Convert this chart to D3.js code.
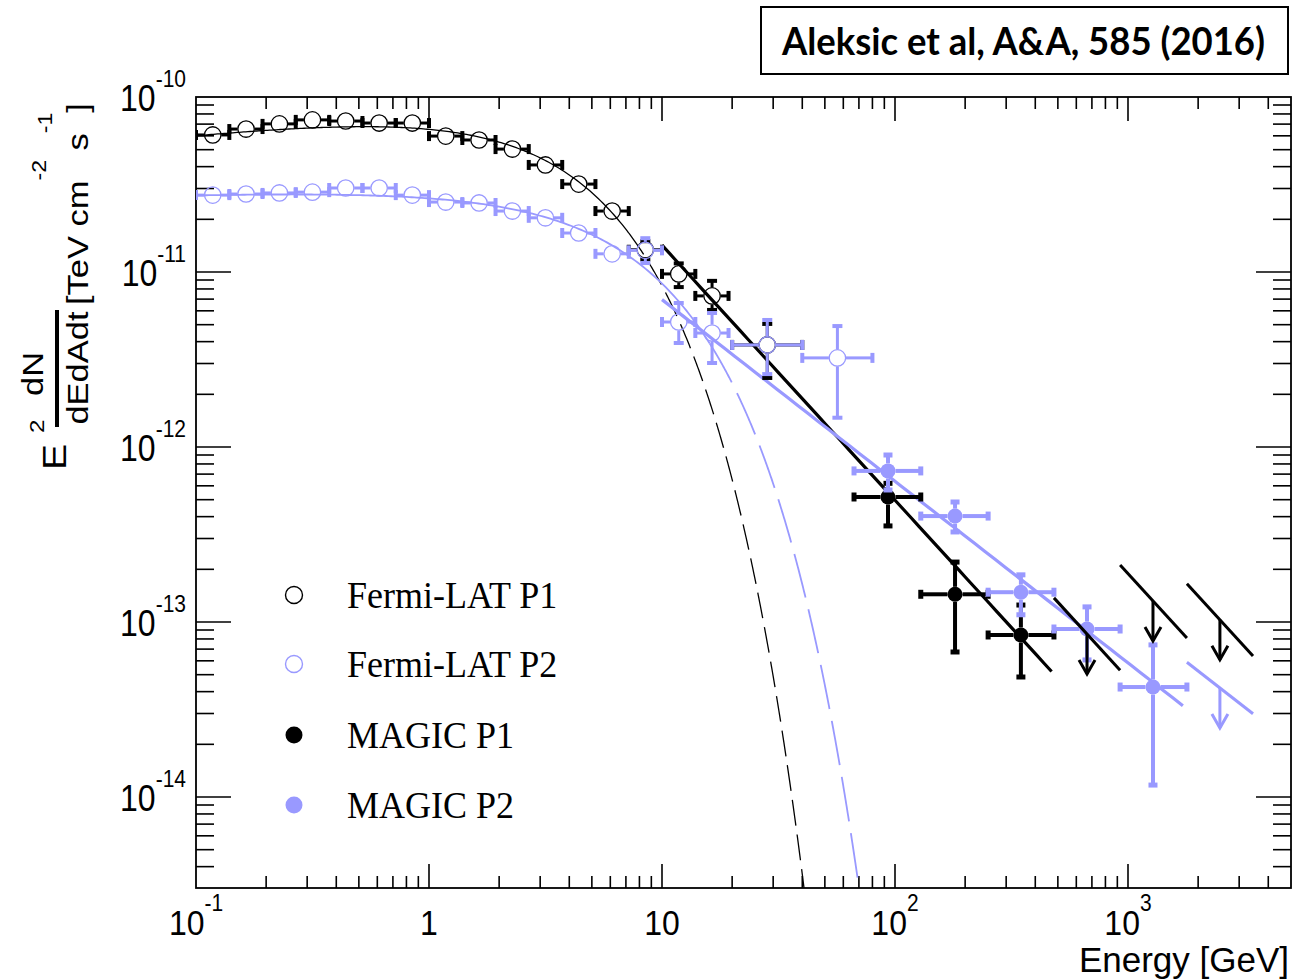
<!DOCTYPE html>
<html><head><meta charset="utf-8">
<script src="https://cdn.jsdelivr.net/npm/d3@7"></script>
<style>body{margin:0;background:#fff} svg{display:block}</style>
</head><body><svg id="c" width="1292" height="979"></svg>
<script>
// ---------------- data ----------------
const xTickValues = [0.1, 1, 10, 100, 1000];
const xTickBase = ["10", "1", "10", "10", "10"];
const xTickExp = ["-1", "", "", "2", "3"];
const yTickValues = [1e-10, 1e-11, 1e-12, 1e-13, 1e-14];
const yTickExp = ["-10", "-11", "-12", "-13", "-14"];

const fermiP1Energy = [0.118,0.164,0.228,0.316,0.439,0.611,0.848,1.18,1.64,2.28,3.16,4.39,6.11,8.48,11.8,16.4,28.3];
const fermiP1BinLo  = [0.1,0.139,0.193,0.268,0.373,0.518,0.720,1.0,1.39,1.93,2.68,3.73,5.18,7.20,10.0,13.9,20.0];
const fermiP1BinHi  = [0.139,0.193,0.268,0.373,0.518,0.720,1.0,1.39,1.93,2.68,3.73,5.18,7.20,10.0,13.9,19.3,40.0];
const fermiP1Flux   = [6.07e-11,6.56e-11,7.02e-11,7.40e-11,7.29e-11,7.10e-11,7.10e-11,5.98e-11,5.68e-11,5.04e-11,4.09e-11,3.18e-11,2.23e-11,1.34e-11,9.75e-12,7.30e-12,3.83e-12];
const fermiP1Low    = [5.9e-11,6.4e-11,6.85e-11,7.25e-11,7.15e-11,6.95e-11,6.95e-11,5.85e-11,5.55e-11,4.9e-11,3.95e-11,3.05e-11,2.12e-11,1.18e-11,8.2e-12,6.07e-12,2.48e-12];
const fermiP1High   = [6.25e-11,6.75e-11,7.2e-11,7.55e-11,7.45e-11,7.25e-11,7.25e-11,6.1e-11,5.8e-11,5.2e-11,4.25e-11,3.32e-11,2.35e-11,1.5e-11,1.12e-11,8.9e-12,5.05e-12];

const fermiP2Energy = [0.118,0.164,0.228,0.316,0.439,0.611,0.848,1.18,1.64,2.28,3.16,4.39,6.11,8.48,11.8,16.4,28.3,56.6];
const fermiP2BinLo  = [0.1,0.139,0.193,0.268,0.373,0.518,0.720,1.0,1.39,1.93,2.68,3.73,5.18,7.20,10.0,13.9,20.0,40.0];
const fermiP2BinHi  = [0.139,0.193,0.268,0.373,0.518,0.720,1.0,1.39,1.93,2.68,3.73,5.18,7.20,10.0,13.9,19.3,40.0,80.0];
const fermiP2Flux   = [2.75e-11,2.79e-11,2.83e-11,2.86e-11,3.02e-11,3.02e-11,2.75e-11,2.51e-11,2.48e-11,2.23e-11,2.04e-11,1.67e-11,1.27e-11,1.33e-11,5.18e-12,4.48e-12,3.83e-12,3.23e-12];
const fermiP2Low    = [2.65e-11,2.7e-11,2.74e-11,2.77e-11,2.93e-11,2.92e-11,2.65e-11,2.42e-11,2.38e-11,2.13e-11,1.94e-11,1.57e-11,1.17e-11,1.125e-11,3.93e-12,3.02e-12,2.61e-12,1.47e-12];
const fermiP2High   = [2.85e-11,2.88e-11,2.92e-11,2.95e-11,3.11e-11,3.12e-11,2.85e-11,2.6e-11,2.58e-11,2.33e-11,2.14e-11,1.77e-11,1.37e-11,1.56e-11,6.65e-12,5.83e-12,5.32e-12,4.91e-12];

const magicP1Energy = [93.3, 181, 347];
const magicP1BinLo  = [66.7, 129, 251];
const magicP1BinHi  = [129, 251, 481];
const magicP1Flux   = [5.18e-13, 1.44e-13, 8.43e-14];
const magicP1Low    = [3.54e-13, 6.74e-14, 4.85e-14];
const magicP1High   = [6.2e-13, 2.2e-13, 1.25e-13];
const magicP1ULEnergy = [667, 1280, 2480];
const magicP1ULBinLo  = [481, 925, 1790];
const magicP1ULBinHi  = [925, 1790, 3440];
const magicP1UL       = [8.53e-14, 1.32e-13, 1.03e-13];

const magicP2Energy = [93.3, 181, 347, 667, 1280];
const magicP2BinLo  = [66.7, 129, 251, 481, 925];
const magicP2BinHi  = [129, 251, 481, 925, 1790];
const magicP2Flux   = [7.3e-13, 4.03e-13, 1.48e-13, 9.12e-14, 4.25e-14];
const magicP2Low    = [5.68e-13, 3.27e-13, 1.10e-13, 6.07e-14, 1.17e-14];
const magicP2High   = [9.0e-13, 4.85e-13, 1.86e-13, 1.22e-13, 7.4e-14];
const magicP2ULEnergy = [2480];
const magicP2ULBinLo  = [1790];
const magicP2ULBinHi  = [3440];
const magicP2UL       = [4.2e-14];

// fit parameters: E^2 dN/dE = N * E^(2-G) * exp(-E/Ec)  (E in GeV)
const fermiP1Fit = {norm: 8.51e-11, index: 1.86, cutoff: 3.78, solidTo: 7.2};
const fermiP2Fit = {norm: 3.01e-11, index: 1.965, cutoff: 7.49, solidTo: 16};
// power laws: E^2 dN/dE = N0 * (E/100)^(2-G)
const magicP1Fit = {norm: 4.97e-13, index: 3.457, from: 10, to: 470};
const magicP2Fit = {norm: 6.37e-13, index: 3.038, from: 10, to: 1720};

const legendLabels = ["Fermi-LAT P1", "Fermi-LAT P2", "MAGIC P1", "MAGIC P2"];

// ---------------- drawing ----------------
const BLACK = "#000", BLUE = "#9999ff";
const svg = d3.select("#c");
const L = 196, R = 1291, T = 97, B = 888;
const x = d3.scaleLog().domain([0.1, 5000]).range([L, L + 233 * Math.log10(50000)]);
const y = d3.scaleLog().domain([Math.pow(10, -14.52), 1e-10]).range([B, T]);

svg.append("defs").append("clipPath").attr("id", "clip")
  .append("rect").attr("x", L).attr("y", T).attr("width", R - L).attr("height", B - T);

// annotation box
svg.append("rect").attr("x", 761).attr("y", 7).attr("width", 527).attr("height", 67)
  .attr("fill", "none").attr("stroke", "#000").attr("stroke-width", 2);
svg.append("text").attr("transform", "translate(782,55) scale(1,1.12)")
  .attr("font-family", "Lato, 'Open Sans', sans-serif").attr("font-weight", "bold")
  .attr("font-size", 34).attr("textLength", 483).attr("lengthAdjust", "spacingAndGlyphs")
  .text("Aleksic et al, A&A, 585 (2016)");

// axes frame and ticks
const axes = svg.append("g");
axes.append("rect").attr("x", L).attr("y", T).attr("width", R - L).attr("height", B - T)
  .attr("fill", "none").attr("stroke", "#000").attr("stroke-width", 1.8);
const isMajor = v => Math.abs(Math.log10(v) - Math.round(Math.log10(v))) < 1e-6;
x.ticks().forEach(v => {
  const px = x(v); if (px <= L + 0.5 || px >= R - 0.5) return;
  const len = isMajor(v) ? 24 : 12;
  axes.append("line").attr("x1", px).attr("x2", px).attr("y1", B).attr("y2", B - len).attr("stroke", "#000").attr("stroke-width", 1.6);
  axes.append("line").attr("x1", px).attr("x2", px).attr("y1", T).attr("y2", T + len).attr("stroke", "#000").attr("stroke-width", 1.6);
});
y.ticks().forEach(v => {
  const py = y(v); if (py <= T + 0.5 || py >= B - 0.5) return;
  const len = isMajor(v) ? 35 : 18;
  axes.append("line").attr("x1", L).attr("x2", L + len).attr("y1", py).attr("y2", py).attr("stroke", "#000").attr("stroke-width", 1.6);
  axes.append("line").attr("x1", R).attr("x2", R - len).attr("y1", py).attr("y2", py).attr("stroke", "#000").attr("stroke-width", 1.6);
});

// tick labels
const SANS = "'Liberation Sans', Arial, Helvetica, sans-serif";
xTickValues.forEach((v, i) => {
  const t = svg.append("text").attr("transform", `translate(${x(v)},935) scale(1,1.12)`)
    .attr("text-anchor", "middle").attr("font-family", SANS).attr("font-size", 32);
  t.append("tspan").text(xTickBase[i]);
  if (xTickExp[i]) t.append("tspan").attr("font-size", 21).attr("dy", -21).text(xTickExp[i]);
});
yTickValues.forEach((v, i) => {
  const t = svg.append("text").attr("transform", `translate(186,${y(v) + 14}) scale(1,1.15)`)
    .attr("text-anchor", "end").attr("font-family", SANS).attr("font-size", 32);
  t.append("tspan").text("10");
  t.append("tspan").attr("font-size", 21).attr("dy", -21).text(yTickExp[i]);
});
svg.append("text").attr("transform", "translate(1289,972)")
  .attr("text-anchor", "end").attr("font-family", SANS).attr("font-size", 35).text("Energy [GeV]");

// y-axis title (rotated)
const yt = svg.append("g").attr("transform", "rotate(-90)").attr("font-family", SANS);
yt.append("text").attr("transform", "translate(-470,66) scale(1.15,1)").attr("font-size", 34).text("E");
yt.append("text").attr("transform", "translate(-433,44) scale(1.15,1)").attr("font-size", 21).text("2");
yt.append("text").attr("transform", "translate(-374,43) scale(1.15,1)").attr("font-size", 30).attr("text-anchor", "middle").text("dN");
yt.append("line").attr("x1", -427).attr("x2", -310).attr("y1", 57).attr("y2", 57).attr("stroke", "#000").attr("stroke-width", 4);
yt.append("text").attr("transform", "translate(-368,88) scale(1.15,1)").attr("font-size", 30).attr("text-anchor", "middle").text("dEdAdt");
const br = yt.append("text").attr("transform", "translate(-305,88) scale(1.15,1)").attr("font-size", 30);
br.append("tspan").text("[TeV cm");
br.append("tspan").attr("font-size", 20).attr("dy", -42).text("-2");
br.append("tspan").attr("dy", 42).text(" s");
br.append("tspan").attr("font-size", 20).attr("dy", -36).text("-1");
br.append("tspan").attr("dy", 36).text("]");

// plot contents
const plot = svg.append("g").attr("clip-path", "url(#clip)");
const line = d3.line().x(d => x(d[0])).y(d => y(d[1]));

function ecpl(fit, e) { return fit.norm * Math.pow(e, 2 - fit.index) * Math.exp(-e / fit.cutoff); }
function pl(fit, e) { return fit.norm * Math.pow(e / 100, 2 - fit.index); }
function logSamples(a, b, n) { const la = Math.log10(a), lb = Math.log10(b); return d3.range(n + 1).map(k => Math.pow(10, la + (lb - la) * k / n)); }

function drawFermiFit(fit, color, w, dash) {
  plot.append("path").attr("d", line(logSamples(0.1, fit.solidTo, 200).map(e => [e, ecpl(fit, e)])))
    .attr("fill", "none").attr("stroke", color).attr("stroke-width", w);
  plot.append("path").attr("d", line(logSamples(fit.solidTo, 120, 400).map(e => [e, ecpl(fit, e)])))
    .attr("fill", "none").attr("stroke", color).attr("stroke-width", w).attr("stroke-dasharray", dash);
}
function drawPL(fit, color) {
  plot.append("path").attr("d", line(logSamples(fit.from, fit.to, 50).map(e => [e, pl(fit, e)])))
    .attr("fill", "none").attr("stroke", color).attr("stroke-width", 3.2);
}
drawFermiFit(fermiP1Fit, BLACK, 1.3, "26,9");
drawFermiFit(fermiP2Fit, BLUE, 1.8, "45,12");
drawPL(magicP1Fit, BLACK);
drawPL(magicP2Fit, BLUE);

function drawPoints(E, lo, hi, F, fLo, fHi, color, filled, r, bw, capLen, capW) {
  const g = plot.append("g").attr("stroke", color);
  E.forEach((e, i) => {
    const cx = x(e), cy = y(F[i]);
    const xl = x(lo[i]), xh = x(hi[i]), yt = y(fHi[i]), yb = y(fLo[i]);
    if (xl < cx - r) {
      g.append("line").attr("x1", xl).attr("x2", cx - r).attr("y1", cy).attr("y2", cy).attr("stroke-width", bw);
      g.append("line").attr("x1", xl).attr("x2", xl).attr("y1", cy - capLen / 2).attr("y2", cy + capLen / 2).attr("stroke-width", capW);
    }
    if (xh > cx + r) {
      g.append("line").attr("x1", cx + r).attr("x2", xh).attr("y1", cy).attr("y2", cy).attr("stroke-width", bw);
      g.append("line").attr("x1", xh).attr("x2", xh).attr("y1", cy - capLen / 2).attr("y2", cy + capLen / 2).attr("stroke-width", capW);
    }
    if (yt < cy - r) {
      g.append("line").attr("x1", cx).attr("x2", cx).attr("y1", yt).attr("y2", cy - r).attr("stroke-width", bw);
      g.append("line").attr("x1", cx - capLen / 2).attr("x2", cx + capLen / 2).attr("y1", yt).attr("y2", yt).attr("stroke-width", capW);
    }
    if (yb > cy + r) {
      g.append("line").attr("x1", cx).attr("x2", cx).attr("y1", cy + r).attr("y2", yb).attr("stroke-width", bw);
      g.append("line").attr("x1", cx - capLen / 2).attr("x2", cx + capLen / 2).attr("y1", yb).attr("y2", yb).attr("stroke-width", capW);
    }
    g.append("circle").attr("cx", cx).attr("cy", cy).attr("r", filled ? r : r - 0.3)
      .attr("fill", filled ? color : "none").attr("stroke", color).attr("stroke-width", filled ? 0 : 1.3);
  });
}
function drawUL(E, lo, hi, U, index, color) {
  const g = plot.append("g").attr("stroke", color).attr("fill", "none").attr("stroke-width", 3);
  E.forEach((e, i) => {
    const f = en => U[i] * Math.pow(en / e, 2 - index);
    g.append("line").attr("x1", x(lo[i])).attr("y1", y(f(lo[i]))).attr("x2", x(hi[i])).attr("y2", y(f(hi[i])));
    const cx = x(e), cy = y(U[i]);
    g.append("line").attr("x1", cx).attr("x2", cx).attr("y1", cy).attr("y2", cy + 40);
    g.append("path").attr("d", `M${cx - 8},${cy + 26} L${cx},${cy + 40} L${cx + 8},${cy + 26}`);
  });
}

drawPoints(fermiP1Energy, fermiP1BinLo, fermiP1BinHi, fermiP1Flux, fermiP1Low, fermiP1High, BLACK, false, 8.5, 3, 10, 4);
drawPoints(fermiP2Energy, fermiP2BinLo, fermiP2BinHi, fermiP2Flux, fermiP2Low, fermiP2High, BLUE, false, 8.5, 3, 10, 4);
drawPoints(magicP1Energy, magicP1BinLo, magicP1BinHi, magicP1Flux, magicP1Low, magicP1High, BLACK, true, 7.5, 4, 9, 5);
drawPoints(magicP2Energy, magicP2BinLo, magicP2BinHi, magicP2Flux, magicP2Low, magicP2High, BLUE, true, 7.5, 4, 9, 5);
drawUL(magicP1ULEnergy, magicP1ULBinLo, magicP1ULBinHi, magicP1UL, magicP1Fit.index, BLACK);
drawUL(magicP2ULEnergy, magicP2ULBinLo, magicP2ULBinHi, magicP2UL, magicP2Fit.index, BLUE);

// legend
const legColors = [BLACK, BLUE, BLACK, BLUE];
const legFilled = [false, false, true, true];
const legY = [595, 664, 735, 805];
legendLabels.forEach((lab, i) => {
  svg.append("circle").attr("cx", 294).attr("cy", legY[i]).attr("r", 8.5)
    .attr("fill", legFilled[i] ? legColors[i] : "none").attr("stroke", legColors[i]).attr("stroke-width", legFilled[i] ? 0 : 1.4);
  svg.append("text").attr("transform", `translate(347,${legY[i] + 13}) scale(1,1.08)`)
    .attr("font-family", "'Liberation Serif', 'Times New Roman', serif").attr("font-size", 36).text(lab);
});
</script></body></html>
